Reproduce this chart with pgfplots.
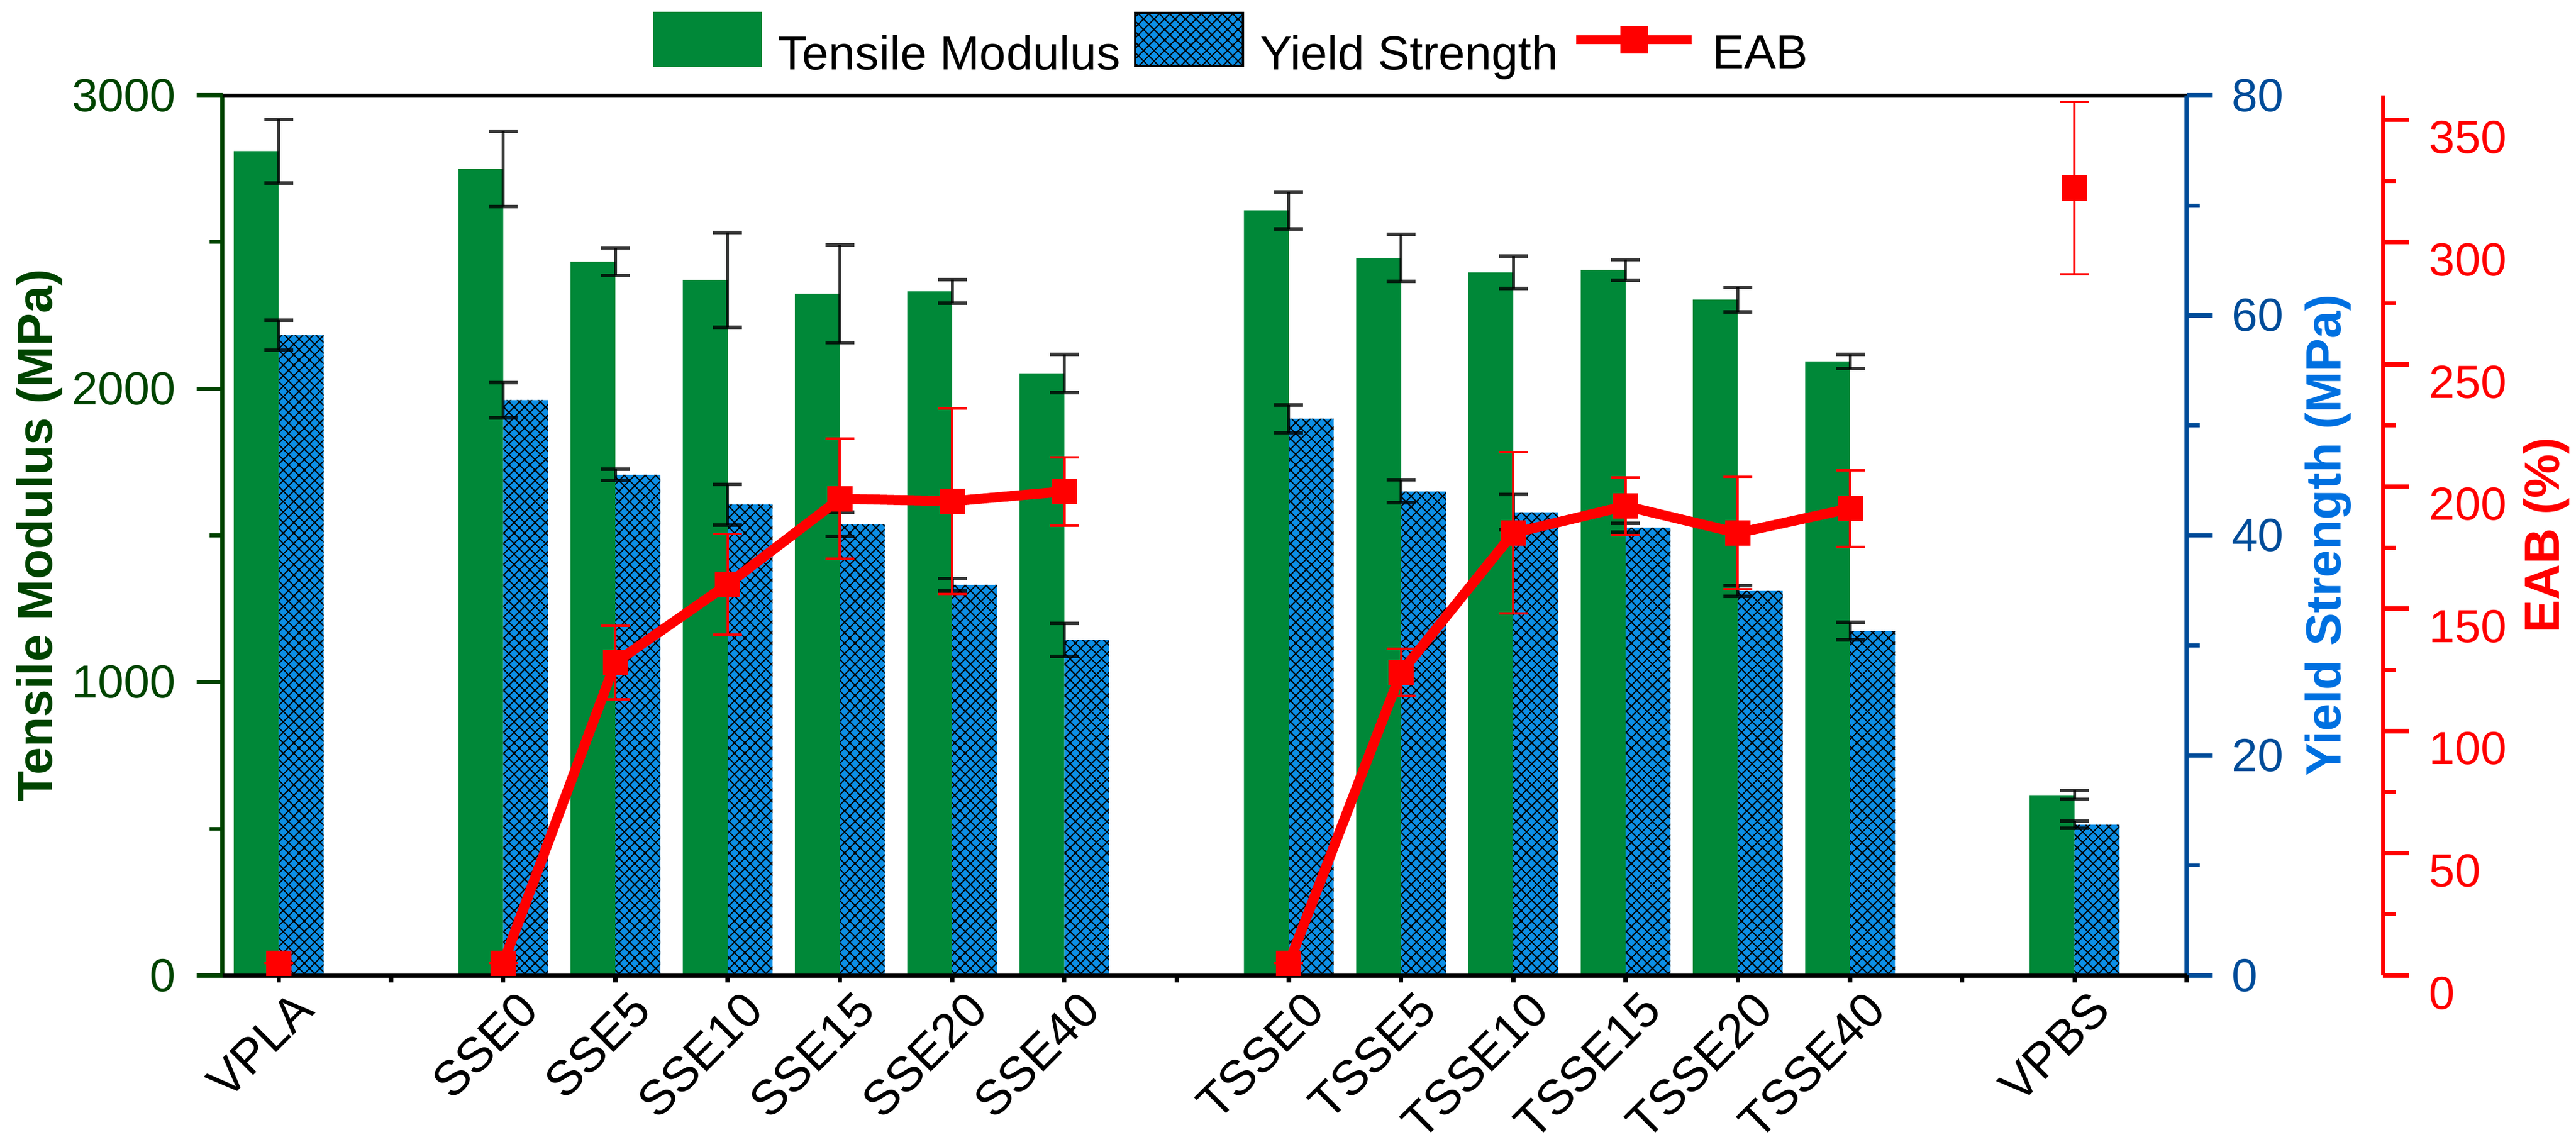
\documentclass[border=0pt]{standalone}
\usepackage{fontspec}
\setmainfont{Liberation Sans}
\usepackage{pgfplots}
\pgfplotsset{compat=1.18}
\usepackage{pgfplotstable}
\usetikzlibrary{patterns.meta}

\definecolor{greenC}{RGB}{0,136,56}
\definecolor{blueC}{RGB}{12,143,230}
\definecolor{dgreen}{RGB}{0,68,0}
\definecolor{dblue}{RGB}{0,76,153}
\definecolor{lblue}{RGB}{0,112,224}

\pgfplotstableread{
x tm tme ys yse
0 2810 108 58.2 1.35
2 2749 128 52.3 1.6
3 2433 47 45.5 0.5
4 2371 161 42.8 1.85
5 2324 166 41.0 1.1
6 2332 40 35.5 0.55
7 2052 65 30.5 1.5
9 2608 63 50.6 1.25
10 2446 80 44.0 1.05
11 2397 55 42.1 1.6
12 2405 36 40.7 0.4
13 2304 42 34.95 0.5
14 2093 24 31.3 0.8
16 615 15 13.7 0.3
}\bardata

\pgfplotstableread{
x eab eabe
2 5 0
3 128 15
4 160 20.6
5 195 24.6
6 194 38
7 198 14
}\ssedata

\pgfplotstableread{
x eab eabe
9 5 0
10 124 9.7
11 181 33
12 192 11.8
13 181 23
14 191 15.7
}\tssedata

\pgfplotstableread{
x eab eabe
0 5 0
16 322 35.3
}\singledata

\pgfplotsset{
  base/.style={
    width=333.6pt, height=149.5pt, scale only axis,
    xmin=-0.5, xmax=17,
    at={(0pt,0pt)}, anchor=south west,
    tick align=outside,
    major tick length=4.4pt, minor tick length=2.2pt,
    major tick style={line width=0.75pt}, minor tick style={line width=0.65pt},
    /pgf/number format/assume math mode=true,
    /pgf/number format/1000 sep={},
    scaled y ticks=false,
    tick label style={font=\fontsize{7.9}{9.5}\selectfont},
    clip=false,
  },
  blackerr/.style={error bars/.cd, y dir=both, y explicit,
    error bar style={draw=black, draw opacity=0.78, line width=0.5pt},
    error mark options={rotate=90, draw=black, draw opacity=0.78, line width=0.6pt, mark size=2.45pt}},
  rederr/.style={error bars/.cd, y dir=both, y explicit,
    error bar style={draw=red, line width=0.4pt},
    error mark options={rotate=90, draw=red, line width=0.4pt, mark size=2.45pt}},
  eab/.style={red, line width=1.7pt, mark=square*, mark size=2pt,
    mark options={solid, line width=0.3pt, fill=red}, forget plot},
}

\begin{document}
\begin{tikzpicture}

% Tensile modulus (left axis)
\begin{axis}[base, ymin=0, ymax=3000,
  axis x line=none, axis y line*=left,
  y axis line style={dgreen, line width=0.7pt},
  ytick={0,1000,2000,3000}, minor ytick={500,1500,2500},
  tick style={dgreen},
  yticklabel style={text=dgreen, anchor=east, inner xsep=3.4pt, inner ysep=0pt},
  every axis y label/.style={at={(axis description cs:-0.10552,0.5)}, rotate=90, anchor=north,
    inner sep=0pt, font=\bfseries\fontsize{8.4}{10}\selectfont, text=dgreen},
  ylabel={Tensile Modulus (MPa)}]
\addplot[ybar, bar width=0.4, bar shift=-0.2, fill=greenC, draw=none, blackerr]
  table[x=x, y=tm, y error=tme] {\bardata};
\end{axis}

% Yield strength (right axis)
\begin{axis}[base, ymin=0, ymax=80,
  axis x line*=top, axis y line*=right, xtick=\empty,
  x axis line style={black, line width=0.7pt},
  y axis line style={dblue, line width=0.7pt},
  ytick={0,20,40,60,80}, minor ytick={10,30,50,70},
  tick style={dblue},
  yticklabel style={text=dblue, anchor=west, inner xsep=3.1pt, inner ysep=0pt},
  every axis y label/.style={at={(axis description cs:1.05965,0.5)}, rotate=90, anchor=north,
    inner sep=0pt, font=\bfseries\fontsize{8.4}{10}\selectfont, text=lblue},
  ylabel={Yield Strength (MPa)}]
\addplot[ybar, bar width=0.4, bar shift=0.2, fill=blueC, draw=none,
  postaction={pattern={Hatch[angle=45,distance=1.26pt,line width=0.2pt]}, pattern color=black},
  blackerr]
  table[x=x, y=ys, y error=yse] {\bardata};
\end{axis}

% x axis, EAB data and legend
\begin{axis}[base, ymin=0, ymax=360,
  axis y line=none, axis x line*=bottom,
  x axis line style={black, line width=0.7pt},
  xtick={0,...,17},
  xticklabels={VPLA,,SSE0,SSE5,SSE10,SSE15,SSE20,SSE40,,TSSE0,TSSE5,TSSE10,TSSE15,TSSE20,TSSE40,,VPBS,},
  major tick length=1.2pt, tick style={black},
  xticklabel style={xshift=2.3pt, yshift=-0.8pt, rotate=45, anchor=north east, inner sep=0pt,
    font=\fontsize{8.3}{9.9}\selectfont},
  legend columns=3,
  legend cell align=left,
  legend style={at={(axis description cs:0,1)}, anchor=south west, xshift=73.1pt, yshift=2.9pt,
    draw=none, fill=none, inner sep=0pt, outer sep=0pt,
    font=\fontsize{8.1}{9.7}\selectfont,
    nodes={inner sep=0pt},
    /tikz/every odd column/.append style={column sep=2.8pt},
    /tikz/every even column/.append style={column sep=2.3pt}}]
\addplot[eab, rederr] table[x=x, y=eab, y error=eabe] {\ssedata};
\addplot[eab, rederr] table[x=x, y=eab, y error=eabe] {\tssedata};
\addplot[eab, only marks, rederr] table[x=x, y=eab, y error=eabe] {\singledata};
\addlegendimage{legend image code/.code={\fill[greenC] (0pt,-1.6pt) rectangle (18.1pt,7.4pt);}}
\addlegendentry{Tensile Modulus}
\addlegendimage{legend image code/.code={\fill[blueC] (0pt,-1.6pt) rectangle (18.3pt,7.4pt);
  \fill[pattern={Hatch[angle=45,distance=1.26pt,line width=0.2pt]}, pattern color=black] (0pt,-1.6pt) rectangle (18.3pt,7.4pt);}}
\addlegendentry{Yield Strength}
\addlegendimage{legend image code/.code={\draw[red, line width=1.5pt] (0pt,2.9pt) -- (19.6pt,2.9pt);
  \fill[red] (7.65pt,0.75pt) rectangle (11.95pt,5.05pt);}}
\addlegendentry{EAB}
\end{axis}

% EAB axis (offset right)
\begin{axis}[at={(365.9pt,0pt)}, anchor=south west, width=1pt, height=149.5pt, scale only axis,
  xmin=0, xmax=1, ymin=0, ymax=360,
  axis x line=none, axis y line*=right,
  y axis line style={red, line width=0.7pt},
  ytick={0,50,...,350}, minor ytick={25,75,...,325},
  tick align=outside, major tick length=4.4pt, minor tick length=2.2pt,
  major tick style={line width=0.75pt}, minor tick style={line width=0.65pt},
  tick style={red},
  /pgf/number format/assume math mode=true,
  tick label style={font=\fontsize{7.9}{9.5}\selectfont},
  yticklabel style={text=red, anchor=north west, inner xsep=3.3pt, inner ysep=0pt},
  every axis y label/.style={at={(axis description cs:24.7,0.5)}, rotate=90, anchor=north,
    inner sep=0pt, font=\bfseries\fontsize{8.4}{10}\selectfont, text=red},
  ylabel={EAB (\%)}]
\end{axis}

\pgfresetboundingbox
\path[use as bounding box] (-37.8pt,-28.2pt) rectangle (399.7pt,165.7pt);
\end{tikzpicture}
\end{document}
